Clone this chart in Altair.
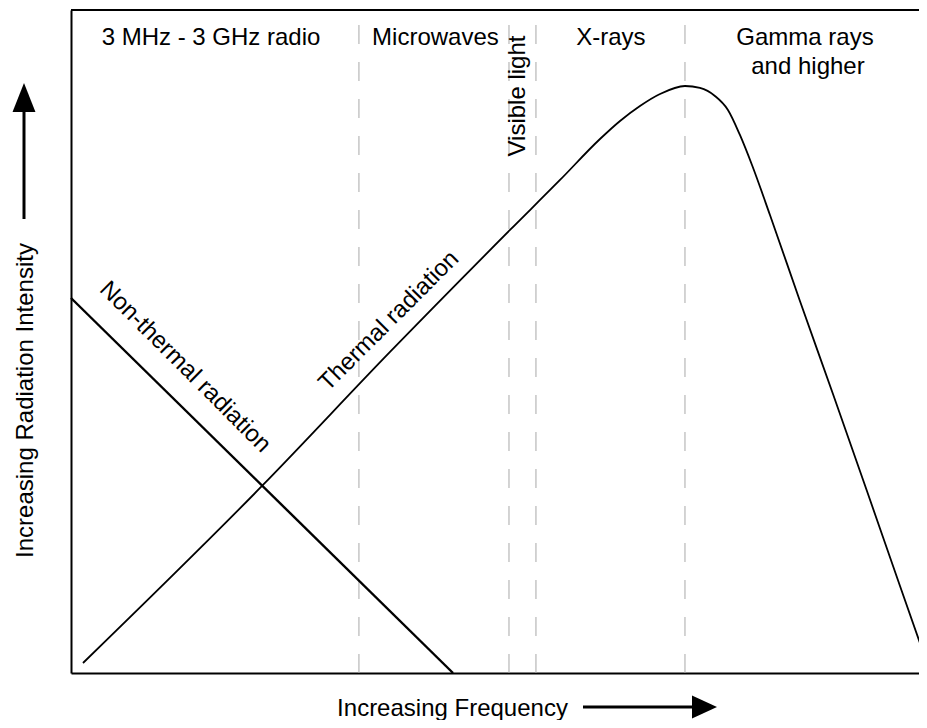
import altair as alt
import pandas as pd

FONT = "Liberation Sans"

# Thermal radiation curve (relative frequency 0-100, relative intensity 0-100)
thermal_x = [1.40, 22.43, 37.27, 51.29, 57.13, 61.80, 64.14, 66.47, 68.81, 71.73,
             73.48, 75.23, 76.75, 78.15, 79.56, 81.66, 85.16, 89.02, 92.99, 96.85, 99.88]
thermal_y = [1.51, 28.36, 48.42, 66.82, 74.36, 80.54, 83.26, 85.52, 87.33, 88.54,
             88.24, 87.03, 84.92, 81.15, 76.62, 69.08, 56.11, 42.08, 27.45, 13.12, 1.96]

# Non-thermal radiation line
nonthermal_x = [0.0, 44.63]
nonthermal_y = [56.56, 0.0]

# Band boundaries (dashed lines)
band_edges = [33.64, 51.17, 54.32, 71.73]

# Band labels
band_labels = ["3 MHz - 3 GHz radio", "Microwaves", "X-rays", "Gamma rays", "and higher"]
band_label_x = [16.36, 42.58, 63.08, 85.75, 86.10]
band_label_y = [94.72, 94.72, 94.72, 94.72, 90.35]

visible_label = ["Visible light"]
visible_x = [53.04]
visible_y = [87.03]

thermal_label = ["Thermal radiation"]
thermal_lx = [37.15]
thermal_ly = [53.09]

nonthermal_label = ["Non-thermal radiation"]
nonthermal_lx = [13.32]
nonthermal_ly = [46.15]

X_MAX_VISIBLE = 99.07  # the frame runs off the right edge of the picture

xscale = alt.Scale(domain=[0, X_MAX_VISIBLE], nice=False, zero=False)
yscale = alt.Scale(domain=[0, 100], nice=False, zero=False)

xaxis = alt.Axis(title="Increasing Frequency", ticks=False, labels=False, grid=False,
                 domainColor="black", domainWidth=2,
                 titleFont=FONT, titleFontSize=24, titleFontWeight="normal", titleColor="black",
                 titleX=381, titleY=42, titleAlign="center", titleBaseline="alphabetic")
yaxis = alt.Axis(title="Increasing Radiation Intensity", ticks=False, labels=False, grid=False,
                 domainColor="black", domainWidth=2,
                 titleFont=FONT, titleFontSize=24, titleFontWeight="normal", titleColor="black",
                 titleX=-39, titleY=390, titleAngle=270, titleAlign="center",
                 titleBaseline="alphabetic")


def X(f="x"):
    return alt.X(f, type="quantitative", scale=xscale, axis=xaxis)


def Y(f="y"):
    return alt.Y(f, type="quantitative", scale=yscale, axis=yaxis)


bands_df = pd.DataFrame({"x": band_edges, "y": [0] * len(band_edges), "y2": [100] * len(band_edges)})
bands = alt.Chart(bands_df).mark_rule(color="#a8a8a8", strokeWidth=1, strokeDash=[19, 18]).encode(
    x=X(), y=Y(), y2="y2:Q")

frame_df = pd.DataFrame({"x": [0], "x2": [X_MAX_VISIBLE], "y": [100]})
top = alt.Chart(frame_df).mark_rule(color="black", strokeWidth=2).encode(x=X(), x2="x2:Q", y=Y())

thermal_df = pd.DataFrame({"x": thermal_x, "y": thermal_y})
thermal = alt.Chart(thermal_df).mark_line(color="black", strokeWidth=1.8, interpolate="monotone").encode(
    x=X(), y=Y())

nt_df = pd.DataFrame({"x": nonthermal_x, "y": nonthermal_y})
nonthermal = alt.Chart(nt_df).mark_line(color="black", strokeWidth=2.4).encode(x=X(), y=Y())

lab_df = pd.DataFrame({"x": band_label_x, "y": band_label_y, "t": band_labels})
labels = alt.Chart(lab_df).mark_text(font=FONT, fontSize=24, align="center", baseline="alphabetic",
                                     color="black").encode(x=X(), y=Y(), text="t:N")

vis_df = pd.DataFrame({"x": visible_x, "y": visible_y, "t": visible_label})
vis = alt.Chart(vis_df).mark_text(font=FONT, fontSize=24, align="center", baseline="alphabetic",
                                  angle=270, color="black").encode(x=X(), y=Y(), text="t:N")

th_df = pd.DataFrame({"x": thermal_lx, "y": thermal_ly, "t": thermal_label})
th_lab = alt.Chart(th_df).mark_text(font=FONT, fontSize=24, align="center", baseline="middle",
                                    angle=315, color="black").encode(x=X(), y=Y(), text="t:N")

nt_ldf = pd.DataFrame({"x": nonthermal_lx, "y": nonthermal_ly, "t": nonthermal_label})
nt_lab = alt.Chart(nt_ldf).mark_text(font=FONT, fontSize=24, align="center", baseline="middle",
                                     angle=45, color="black").encode(x=X(), y=Y(), text="t:N")

# Axis arrows (decoration)
one = pd.DataFrame({"k": [0]})
y_arrow_line = alt.Chart(one).mark_rule(color="black", strokeWidth=3).encode(
    x=alt.value(-47), y=alt.value(209), y2=alt.value(100))
y_arrow_head = alt.Chart(one).mark_point(shape="M0,-1L0.79,1L-0.79,1Z", size=841, filled=True,
                                         color="black", opacity=1, strokeWidth=0).encode(
    x=alt.value(-47), y=alt.value(87.5))
x_arrow_line = alt.Chart(one).mark_rule(color="black", strokeWidth=3).encode(
    x=alt.value(512), x2=alt.value(623), y=alt.value(697))
x_arrow_head = alt.Chart(one).mark_point(shape="M1,0L-1,-0.92L-1,0.92Z", size=625, filled=True,
                                         color="black", opacity=1, strokeWidth=0).encode(
    x=alt.value(633.5), y=alt.value(697))

chart = alt.layer(
    bands, top, thermal, nonthermal, labels, vis, th_lab, nt_lab,
    y_arrow_line, y_arrow_head, x_arrow_line, x_arrow_head
).properties(
    width=848, height=663,
    autosize=alt.AutoSizeParams(type="none"),
    padding={"left": 63, "top": 2, "right": 0, "bottom": 47},
    background="white",
).configure_view(stroke=None)

chart.save("out.html", embed_options={"renderer": "svg", "actions": False})
